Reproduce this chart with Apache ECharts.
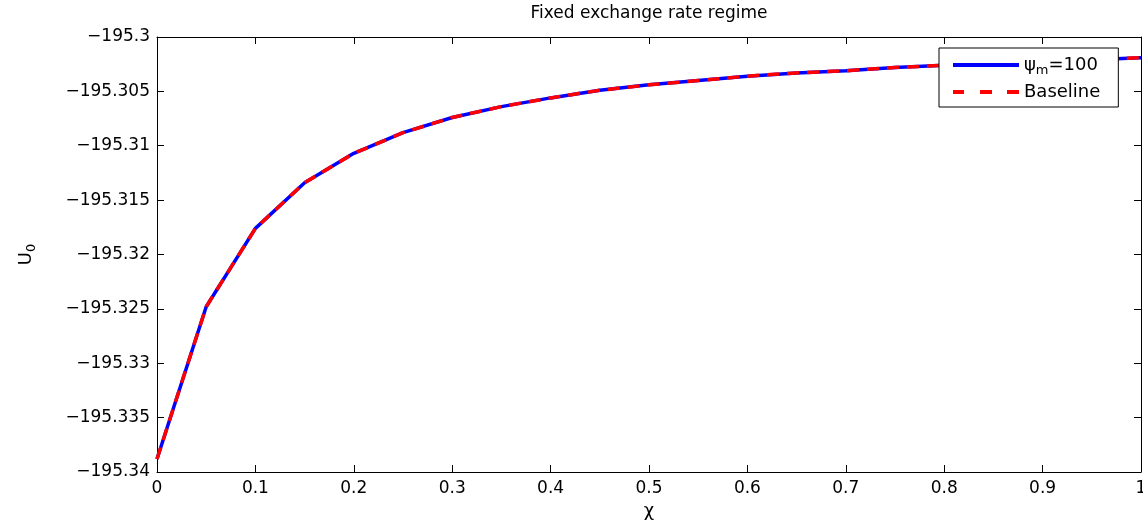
<!DOCTYPE html>
<html>
<head>
<meta charset="utf-8">
<script src="https://cdn.jsdelivr.net/npm/echarts@6/dist/echarts.min.js"></script>
<style>
  html, body { margin: 0; padding: 0; background: #fff; overflow: hidden; }
  #chart { width: 1143px; height: 529px; }
</style>
</head>
<body>
<div id="chart"></div>
<script>
// chi values on the x axis
const chi = [0, 0.05, 0.1, 0.15, 0.2, 0.25, 0.3, 0.35, 0.4, 0.45, 0.5,
             0.55, 0.6, 0.65, 0.7, 0.75, 0.8, 0.85, 0.9, 0.95, 1];
// U_0 for psi_m = 100
const psiValues = [-195.3388, -195.3248, -195.3176, -195.3134, -195.3107, -195.3088,
                   -195.3074, -195.3064, -195.3056, -195.3049, -195.3044, -195.3040,
                   -195.3036, -195.3033, -195.3031, -195.3028, -195.3026, -195.3024,
                   -195.3022, -195.3021, -195.3019];
// baseline (overlaps the psi_m curve)
const baseValues = [-195.3388, -195.3248, -195.3176, -195.3134, -195.3107, -195.3088,
                    -195.3074, -195.3064, -195.3056, -195.3049, -195.3044, -195.3040,
                    -195.3036, -195.3033, -195.3031, -195.3028, -195.3026, -195.3024,
                    -195.3022, -195.3021, -195.3019];
const seriesNames = ['ψm=100', 'Baseline'];

const font = 'DejaVu Sans';
const fmt = function (v, d) {
    return String(parseFloat(v.toFixed(d))).replace('-', '\u2212');
};

const chart = echarts.init(document.getElementById('chart'), null, {renderer: 'canvas'});

const axisLine = {show: true, onZero: false, lineStyle: {color: '#000', width: 1}};
const axisTick = {show: true, inside: true, length: 7, lineStyle: {color: '#000'}};

// legend icons: solid bar and three dashes
const solidIcon = 'path://M0,0h66v4h-66z';
const dashIcon = 'path://M0,0h11v4h-11zM27,0h12v4h-12zM54,0h12v4h-12z';

const option = {
    animation: false,
    backgroundColor: '#fff',
    title: {
        text: 'Fixed exchange rate regime',
        left: 649,
        top: 5,
        textAlign: 'center',
        padding: 0,
        textStyle: {fontFamily: font, fontSize: 17, fontWeight: 'normal', color: '#000'}
    },
    grid: {left: 157, right: 2, top: 37, bottom: 57, containLabel: false, outerBoundsMode: 'none'},
    legend: {
        orient: 'vertical',
        left: 939,
        top: 48,
        padding: [5, 18, 3, 14],
        itemWidth: 66,
        itemHeight: 4,
        itemGap: 3,
        backgroundColor: '#fff',
        borderColor: '#000',
        borderWidth: 1,
        borderRadius: 0,
        data: [
            {name: seriesNames[0], icon: solidIcon},
            {name: seriesNames[1], icon: dashIcon}
        ],
        formatter: function (name) {
            if (name === seriesNames[0]) return '{a|ψ}{b|m}{a|=100}';
            return '{a|' + name + '}';
        },
        textStyle: {
            fontFamily: font, fontSize: 18, color: '#000', lineHeight: 24,
            rich: {
                a: {fontFamily: font, fontSize: 18, color: '#000', lineHeight: 24},
                b: {fontFamily: font, fontSize: 13, color: '#000', lineHeight: 12, verticalAlign: 'bottom'}
            }
        }
    },
    xAxis: [{
        type: 'value',
        position: 'bottom',
        min: 0, max: 1, interval: 0.1,
        axisLine: axisLine, axisTick: axisTick,
        splitLine: {show: false},
        axisLabel: {
            margin: 8, color: '#000', fontFamily: font, fontSize: 17,
            formatter: function (v) { return fmt(v, 2); }
        },
        name: 'χ',
        nameLocation: 'middle',
        nameGap: 29,
        nameTextStyle: {fontFamily: font, fontSize: 18, color: '#000'}
    }, {
        type: 'value',
        position: 'top',
        min: 0, max: 1, interval: 0.1,
        axisLine: axisLine, axisTick: axisTick,
        splitLine: {show: false},
        axisLabel: {show: false}
    }],
    yAxis: [{
        type: 'value',
        position: 'left',
        min: -195.34, max: -195.3, interval: 0.005,
        axisLine: axisLine, axisTick: axisTick,
        splitLine: {show: false},
        axisLabel: {
            margin: 7, color: '#000', fontFamily: font, fontSize: 17,
            formatter: function (v) { return fmt(v, 3); }
        },
        name: '{u|U}{s|0}',
        nameLocation: 'middle',
        nameGap: 119,
        nameTextStyle: {
            rich: {
                u: {fontFamily: font, fontSize: 18, color: '#000', lineHeight: 24},
                s: {fontFamily: font, fontSize: 13, color: '#000', lineHeight: 12, verticalAlign: 'bottom'}
            }
        }
    }, {
        type: 'value',
        position: 'right',
        min: -195.34, max: -195.3, interval: 0.005,
        axisLine: axisLine, axisTick: axisTick,
        splitLine: {show: false},
        axisLabel: {show: false}
    }],
    series: [{
        name: seriesNames[0],
        type: 'line',
        data: chi.map(function (x, i) { return [x, psiValues[i]]; }),
        symbol: 'none',
        showSymbol: false,
        lineStyle: {color: '#0000ff', width: 3.5, type: 'solid'},
        itemStyle: {color: '#0000ff'},
        z: 2
    }, {
        name: seriesNames[1],
        type: 'line',
        data: chi.map(function (x, i) { return [x, baseValues[i]]; }),
        symbol: 'none',
        showSymbol: false,
        lineStyle: {color: '#ff0000', width: 3.5, type: [12, 8]},
        itemStyle: {color: '#ff0000'},
        z: 3
    }]
};

chart.setOption(option);
</script>
</body>
</html>
